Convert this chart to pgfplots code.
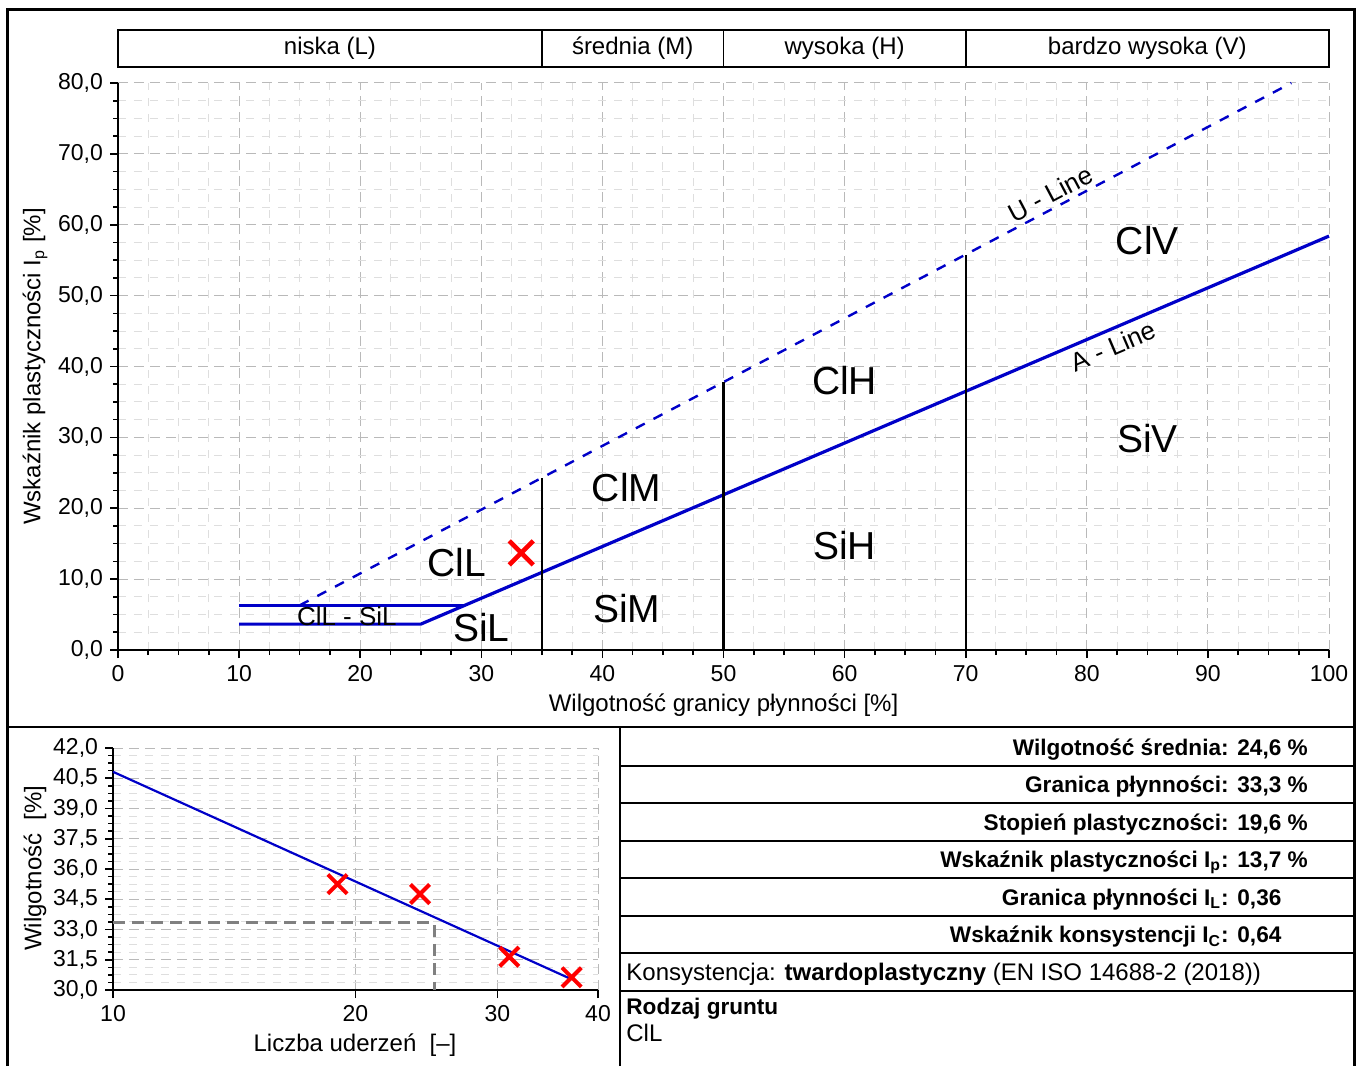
\documentclass[border=0pt]{standalone}
\usepackage{pgfplots}
\pgfplotsset{compat=1.18}
\usepackage{fontspec}
\setmainfont{Liberation Sans}
\definecolor{lineblue}{RGB}{0,0,200}
\definecolor{gridmaj}{RGB}{185,185,185}
\definecolor{gridmin}{RGB}{222,222,222}
\definecolor{dgray}{RGB}{128,128,128}
\newcommand\fs[1]{\fontsize{#1}{#1}\selectfont}
\begin{document}
\begin{tikzpicture}
\path[use as bounding box] (0,0) rectangle (679pt,533pt);
% frame and panel dividers
\draw[line width=1.5pt] (3.5pt,0pt) -- (3.5pt,528pt) -- (677pt,528pt) -- (677pt,0pt);
\draw[line width=0.9pt] (3.5pt,169.5pt) -- (677pt,169.5pt);
\draw[line width=0.9pt] (310pt,0pt) -- (310pt,169.5pt);
\foreach \y in {150,131.5,112.5,94,75,56.5,37.5} \draw[line width=0.9pt] (310pt,\y pt) -- (677pt,\y pt);
% table text
\begin{scope}[every node/.style={inner sep=0pt}]
\node[anchor=base east,font=\bfseries\fs{11.3}] at (614.5pt,155.2pt) {Wilgotność średnia:};
\node[anchor=base west,font=\bfseries\fs{11.3}] at (618.5pt,155.2pt) {24,6 \%};
\node[anchor=base east,font=\bfseries\fs{11.3}] at (614.5pt,136.7pt) {Granica płynności:};
\node[anchor=base west,font=\bfseries\fs{11.3}] at (618.5pt,136.7pt) {33,3 \%};
\node[anchor=base east,font=\bfseries\fs{11.3}] at (614.5pt,118pt) {Stopień plastyczności:};
\node[anchor=base west,font=\bfseries\fs{11.3}] at (618.5pt,118pt) {19,6 \%};
\node[anchor=base east,font=\bfseries\fs{11.3}] at (614.5pt,99.2pt) {Wskaźnik plastyczności I\textsubscript{p}:};
\node[anchor=base west,font=\bfseries\fs{11.3}] at (618.5pt,99.2pt) {13,7 \%};
\node[anchor=base east,font=\bfseries\fs{11.3}] at (614.5pt,80.5pt) {Granica płynności I\textsubscript{L}:};
\node[anchor=base west,font=\bfseries\fs{11.3}] at (618.5pt,80.5pt) {0,36};
\node[anchor=base east,font=\bfseries\fs{11.3}] at (614.5pt,61.7pt) {Wskaźnik konsystencji I\textsubscript{C}:};
\node[anchor=base west,font=\bfseries\fs{11.3}] at (618.5pt,61.7pt) {0,64};
\node[anchor=base west,font=\fs{12}] at (313pt,42.7pt) {Konsystencja: \textbf{twardoplastyczny} (EN ISO 14688-2 (2018))};
\node[anchor=base west,font=\bfseries\fs{11.3}] at (313pt,26pt) {Rodzaj gruntu};
\node[anchor=base west,font=\fs{12}] at (313pt,12.2pt) {ClL};
\end{scope}

% ===== main plasticity chart =====
\begin{axis}[
  at={(59pt,208pt)}, anchor=south west,
  scale only axis, width=605.5pt, height=283.5pt,
  xmin=0, xmax=100, ymin=0, ymax=80,
  axis x line*=bottom, axis y line*=left,
  axis line style={-, line width=1.2pt},
  xtick={0,10,...,100}, ytick={0,10,...,80},
  minor x tick num=3, minor y tick num=3,
  grid=both,
  major grid style={gridmaj, dash pattern=on 5pt off 3pt, line width=0.5pt},
  minor grid style={gridmin, dash pattern=on 4pt off 4pt, line width=0.5pt},
  tick align=outside, major tick length=4pt, minor tick length=2.5pt,
  tick style={black, line width=0.8pt},
  /pgf/number format/assume math mode=true,
  ticklabel style={font=\fs{11.5}},
  yticklabel style={/pgf/number format/.cd, fixed, fixed zerofill, precision=1, use comma},
  xticklabel style={/pgf/number format/.cd, fixed, precision=0},
  xlabel={Wilgotność granicy płynności [\%]},
  ylabel={Wskaźnik plastyczności I\textsubscript{p} [\%]},
  label style={font=\fs{12}},
  xlabel style={at={(axis description cs:0.5,-0.097)}, anchor=center},
  ylabel style={at={(axis description cs:-0.0685,0.5)}, anchor=center},
  clip=false,
]
% A-line and CL-ML band
\addplot[lineblue, line width=1.6pt] coordinates {(10,3.65) (25,3.65) (100,58.4)};
\addplot[lineblue, line width=1.6pt] coordinates {(10,6.25) (28.56,6.25)};
% U-line
\addplot[lineblue, line width=1.2pt, dash pattern=on 5pt off 5pt] coordinates {(15,6.3) (96.89,80)};
% boundaries
\addplot[black, line width=1.1pt] coordinates {(35,0) (35,24.3)};
\addplot[black, line width=1.1pt] coordinates {(50,0) (50,37.8)};
\addplot[black, line width=1.1pt] coordinates {(70,0) (70,55.8)};
% sample
\addplot[red, only marks, mark=x, mark size=8.5pt, line width=2.3pt] coordinates {(33.3,13.7)};
% header band
\draw[line width=0.9pt] (axis cs:0,82.26) rectangle (axis cs:100,87.48);
\draw[line width=0.9pt] (axis cs:35,82.26) -- (axis cs:35,87.48);
\draw[line width=0.9pt] (axis cs:50,82.26) -- (axis cs:50,87.48);
\draw[line width=0.9pt] (axis cs:70,82.26) -- (axis cs:70,87.48);
\node[font=\fs{12}] at (axis cs:17.5,84.87) {niska (L)};
\node[font=\fs{12}] at (axis cs:42.5,84.87) {średnia (M)};
\node[font=\fs{12}] at (axis cs:60,84.87) {wysoka (H)};
\node[font=\fs{12}] at (axis cs:85,84.87) {bardzo wysoka (V)};
% region labels
\node[font=\fs{19.5}] at (axis cs:28,12.3) {ClL};
\node[font=\fs{19.5}] at (axis cs:30,3.1) {SiL};
\node[font=\fs{13}] at (axis cs:18.9,4.8) {ClL - SiL};
\node[font=\fs{19.5}] at (axis cs:42,22.9) {ClM};
\node[font=\fs{19.5}] at (axis cs:42,5.9) {SiM};
\node[font=\fs{19.5}] at (axis cs:60,38) {ClH};
\node[font=\fs{19.5}] at (axis cs:60,14.8) {SiH};
\node[font=\fs{19.5}] at (axis cs:85,57.8) {ClV};
\node[font=\fs{19.5}] at (axis cs:85,29.9) {SiV};
\node[font=\fs{13}, rotate=27.8] at (axis cs:77,64.4) {U - Line};
\node[font=\fs{13}, rotate=23.1] at (axis cs:82.2,42.9) {A - Line};
\end{axis}

% ===== flow curve chart =====
\begin{axis}[
  at={(56.5pt,38pt)}, anchor=south west,
  scale only axis, width=242.5pt, height=121pt,
  xmode=log, xmin=10, xmax=40, ymin=30, ymax=42,
  axis x line*=bottom, axis y line*=left,
  axis line style={-, line width=1.2pt},
  xtick={10,20,30,40}, xticklabels={10,20,30,40}, minor xtick={},
  ytick={30,31.5,...,42}, minor y tick num=3,
  grid=both,
  major grid style={gridmaj, dash pattern=on 5pt off 3pt, line width=0.5pt},
  minor grid style={gridmin, dash pattern=on 4pt off 4pt, line width=0.5pt},
  tick align=outside, major tick length=4pt, minor tick length=2.5pt,
  tick style={black, line width=0.8pt},
  /pgf/number format/assume math mode=true,
  ticklabel style={font=\fs{11.5}},
  yticklabel style={/pgf/number format/.cd, fixed, fixed zerofill, precision=1, use comma},
  xlabel={Liczba uderzeń\ \ [–]},
  ylabel={Wilgotność\ \ [\%]},
  label style={font=\fs{12}},
  xlabel style={at={(axis description cs:0.499,-0.227)}, anchor=center},
  ylabel style={at={(axis description cs:-0.161,0.504)}, anchor=center},
  clip=false,
]
\addplot[dgray, line width=1.5pt, dash pattern=on 6pt off 3.5pt] coordinates {(10,33.33) (25.03,33.33) (25.03,30)};
\addplot[lineblue, line width=1.1pt] coordinates {(10,40.82) (37.1,30.53)};
\addplot[red, only marks, mark=x, mark size=6.8pt, line width=2pt] coordinates {(19.0,35.25) (24.05,34.76) (31.04,31.65) (37.1,30.63)};
\end{axis}
\end{tikzpicture}
\end{document}
